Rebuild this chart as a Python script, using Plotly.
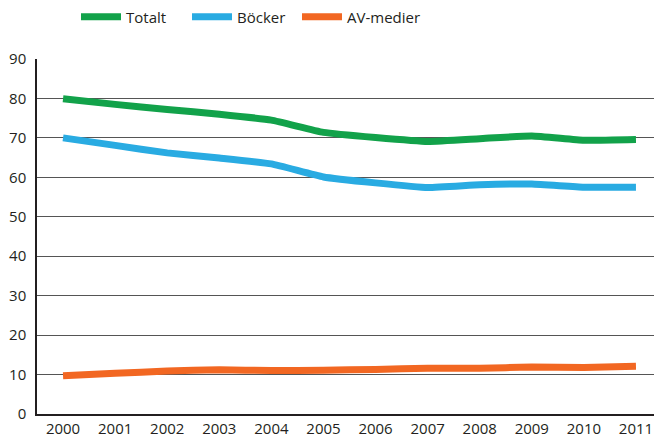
import plotly.graph_objects as go

years = ["2000", "2001", "2002", "2003", "2004", "2005", "2006", "2007", "2008", "2009", "2010", "2011"]
totalt = [79.9, 78.5, 77.2, 76.0, 74.5, 71.4, 70.1, 69.1, 69.8, 70.5, 69.4, 69.6]
bocker = [70.0, 68.1, 66.2, 64.9, 63.4, 60.1, 58.6, 57.4, 58.1, 58.3, 57.5, 57.5]
av_medier = [9.7, 10.3, 10.9, 11.2, 11.0, 11.1, 11.3, 11.6, 11.6, 11.9, 11.8, 12.1]

# the page body has a default 8px margin, so the figure is laid out shifted by -8px
series = [
    ("Totalt", totalt, "#12a24a", "legend", 68),
    ("Böcker", bocker, "#29abe2", "legend2", 179),
    ("AV-medier", av_medier, "#f26722", "legend3", 289),
]

fig = go.Figure()
legends = {}
for name, vals, color, leg, lx in series:
    fig.add_trace(go.Scatter(x=years, y=vals, name=name, mode="lines", legend=leg,
                             line=dict(color=color, width=7, shape="spline", smoothing=0.4)))
    legends[leg] = dict(orientation="h", x=lx / 662, xref="container",
                        y=1 - 9 / 444, yref="container", xanchor="left", yanchor="middle",
                        font=dict(size=15), itemwidth=40, bgcolor="rgba(0,0,0,0)")

fig.update_layout(
    width=662, height=444,
    margin=dict(l=29, r=8, t=51, b=38, autoexpand=False),
    paper_bgcolor="white", plot_bgcolor="white",
    font=dict(family="Open Sans, Noto Sans, sans-serif", size=15, color="#231f20"),
    showlegend=True,
    **legends,
)
fig.update_xaxes(type="category", range=[-0.5, 11.5], showgrid=False, showline=True,
                 linecolor="#231f20", linewidth=1.5, ticks="", tickfont=dict(size=15))
fig.update_yaxes(range=[0, 90], dtick=10, showgrid=True, gridcolor="#555555", gridwidth=1,
                 showline=True, linecolor="#231f20", linewidth=1.5, zeroline=False,
                 ticks="", tickfont=dict(size=15), ticklabelstandoff=6)

fig.write_html("out.html")
